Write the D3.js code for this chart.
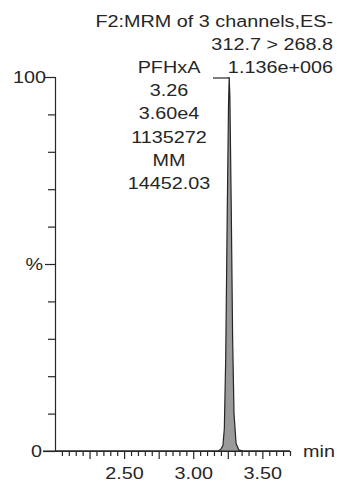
<!DOCTYPE html>
<html>
<head>
<meta charset="utf-8">
<script src="https://cdn.jsdelivr.net/npm/d3@7"></script>
<style>
  html, body { margin: 0; padding: 0; background: #fff; }
  svg { display: block; font-family: "Liberation Sans", Arial, sans-serif; }
</style>
</head>
<body>
<div id="container"></div>
<script>
// chromatogram trace (time in min, relative intensity %)
const traceTime = [2.00, 3.18, 3.20, 3.215, 3.225, 3.235, 3.245, 3.255, 3.26, 3.265, 3.275, 3.285, 3.295, 3.31, 3.33, 3.36, 3.70];
const traceValue = [0, 0, 0.5, 1.5, 6, 25, 60, 92, 100, 95, 65, 30, 10, 2, 0.3, 0, 0];

const headerLines = ["F2:MRM of 3 channels,ES-", "312.7 > 268.8", "1.136e+006"];
const peakName = "PFHxA";
const peakLabels = ["3.26", "3.60e4", "1135272", "MM", "14452.03"];
const peakTime = 3.26;

const xDomain = [2.0, 3.7];
const xMinorTicks = [2.05, 2.10, 2.15, 2.20, 2.30, 2.35, 2.40, 2.45, 2.55, 2.60, 2.65, 2.70, 2.80, 2.85, 2.90, 2.95,
  3.05, 3.10, 3.15, 3.20, 3.30, 3.35, 3.40, 3.45, 3.55, 3.60, 3.65, 3.70];
const xMajorTicks = [2.25, 2.50, 2.75, 3.00, 3.25, 3.50];
const xTickLabels = [2.50, 3.00, 3.50];
const yTicks = [0, 10, 20, 30, 40, 50, 60, 70, 80, 90, 100];
const yTickLabels = { 0: "0", 50: "%", 100: "100" };

const W = 337, H = 484;
const ink = "#262626";
const fontSize = 16.5;
const stretch = 1.2;

const svg = d3.select("#container").append("svg")
  .attr("width", W)
  .attr("height", H);

const x = d3.scaleLinear().domain(xDomain).range([55, 290]);
const y = d3.scaleLinear().domain([0, 100]).range([451, 77]);

// stretched text like the scanned printout
function label(px, py, str, anchor) {
  return svg.append("text")
    .attr("transform", `translate(${px},${py}) scale(${stretch},1)`)
    .attr("text-anchor", anchor)
    .style("font-size", fontSize + "px")
    .style("fill", ink)
    .text(str);
}

// peak
const data = traceTime.map((t, i) => ({ t, v: traceValue[i] }));
const area = d3.area().x(d => x(d.t)).y0(y(0)).y1(d => y(d.v)).curve(d3.curveLinear);
const line = d3.line().x(d => x(d.t)).y(d => y(d.v)).curve(d3.curveLinear);

svg.append("path").datum(data)
  .attr("d", area)
  .attr("fill", "#9a9a9a");
svg.append("path").datum(data)
  .attr("d", line)
  .attr("fill", "none")
  .attr("stroke", ink)
  .attr("stroke-width", 1.2);

// axes
const xMinor = svg.append("g")
  .attr("transform", `translate(0,${y(0)})`)
  .call(d3.axisBottom(x).tickValues(xMinorTicks).tickSize(5).tickSizeOuter(0).tickFormat(""));
const xMajor = svg.append("g")
  .attr("transform", `translate(0,${y(0)})`)
  .call(d3.axisBottom(x).tickValues(xMajorTicks).tickSize(8).tickSizeOuter(0)
    .tickFormat(d => xTickLabels.includes(d) ? d3.format(".2f")(d) : ""));

xMajor.selectAll("text")
  .attr("y", 16)
  .attr("transform", `scale(${stretch},1)`)
  .style("font-size", fontSize + "px")
  .style("font-family", "'Liberation Sans', Arial, sans-serif")
  .style("fill", ink);

const yAxis = svg.append("g")
  .attr("transform", `translate(${x(xDomain[0])},0)`)
  .call(d3.axisLeft(y).tickValues(yTicks).tickSizeOuter(0)
    .tickSize(7).tickFormat(""));

yAxis.selectAll(".tick line")
  .attr("x2", d => (d in yTickLabels) ? (d === 0 ? -12 : -10) : -7);

[xMinor, xMajor, yAxis].forEach(g => {
  g.selectAll("line, path").attr("stroke", ink).attr("stroke-width", 1.2);
});

// x axis runs back to the "0" tick
svg.append("line")
  .attr("x1", 43).attr("x2", x(xDomain[1]))
  .attr("y1", y(0)).attr("y2", y(0))
  .attr("stroke", ink).attr("stroke-width", 1.2);

// y tick labels
Object.keys(yTickLabels).forEach(k => {
  const v = +k;
  const off = v === 0 ? 13 : v === 50 ? 12 : 9;
  label(x(xDomain[0]) - off, y(v) + 6, yTickLabels[k], "end");
});

label(303, 457, "min", "start");

// header text, right aligned
headerLines.forEach((s, i) => label(333, 27 + i * 23, s, "end"));

// peak annotation
const cx = 169;
label(cx, 73, peakName, "middle");
peakLabels.forEach((s, i) => label(cx, 96 + i * 23.3, s, "middle"));

svg.append("path")
  .attr("d", `M${213},${y(100) + 1}H${x(peakTime)}`)
  .attr("fill", "none")
  .attr("stroke", ink)
  .attr("stroke-width", 1.2);
</script>
</body>
</html>
